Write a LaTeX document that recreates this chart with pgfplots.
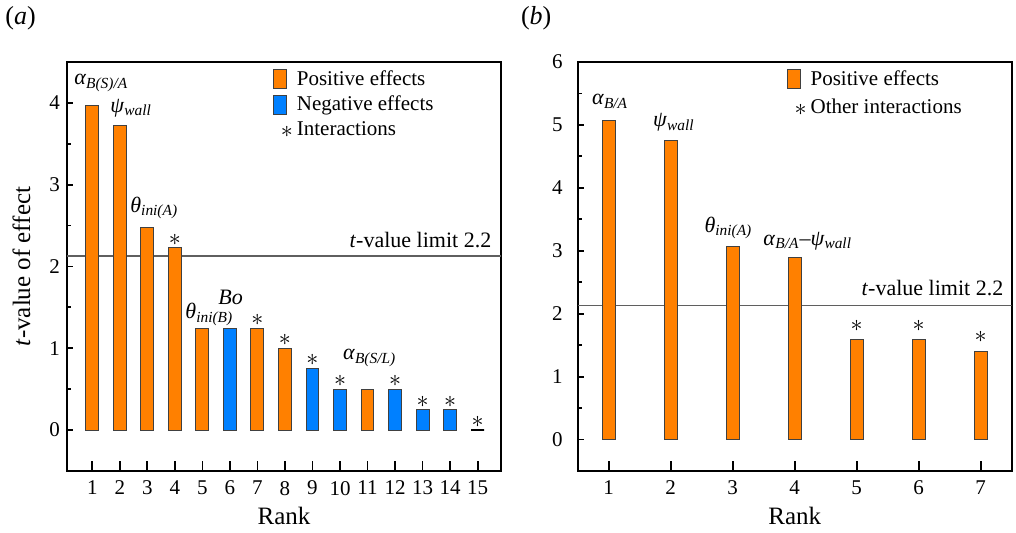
\documentclass[border=0pt]{standalone}
\usepackage{fontspec}
\setmainfont{Liberation Serif}
\usepackage{pgfplots}
\pgfplotsset{compat=1.18}
\definecolor{posc}{RGB}{255,128,0}
\definecolor{negc}{RGB}{0,128,255}
\definecolor{limc}{RGB}{95,95,95}
\pgfplotsset{
  common/.style={
    scale only axis,
    axis line style={line width=1pt},
    tick align=inside,
    xtick pos=bottom, ytick pos=left,
    tick style={black, line width=0.9pt},
    xtick style={/pgfplots/major tick length=5pt},
    ytick style={/pgfplots/major tick length=3pt},
    minor tick length=2pt,
    /pgf/number format/assume math mode=true,
    ticklabel style={font=\fontsize{10.5}{12}\selectfont},
    xticklabel style={anchor=north, yshift=-1.5pt},
    label style={font=\fontsize{12.5}{15}\selectfont},
    xlabel style={at={(axis description cs:0.5,-0.132)}, anchor=base},
    legend cell align=left,
    legend style={draw=none, fill=none, font=\fontsize{10.5}{12}\selectfont, anchor=north west},
  },
  posleg/.style={legend image code/.code={
    \draw[fill=posc,draw=black!75,line width=0.5pt] (0pt,-4.75pt) rectangle (6.5pt,4.75pt);
    \path[draw=none,fill=none] (0pt,0pt) -- (9pt,0pt);}},
  negleg/.style={legend image code/.code={
    \draw[fill=negc,draw=black!75,line width=0.5pt] (0pt,-4.75pt) rectangle (6.5pt,4.75pt);
    \path[draw=none,fill=none] (0pt,0pt) -- (9pt,0pt);}},
  astleg/.style={legend image code/.code={
    \path[draw=none,fill=none] (0pt,-4.75pt) rectangle (9pt,4.75pt);
    \node[inner sep=0pt, text=black, font=\fontsize{12}{13}\selectfont] at (3.25pt,-1.5pt) {$\ast$};}},
  barstyle/.style={ybar, bar shift=0pt, draw=black!75, line width=0.5pt, forget plot},
}
\tikzset{ann/.style={anchor=base west, inner sep=0pt, font=\fontsize{11}{13}\selectfont}}
\newcommand{\sub}[1]{\textsubscript{\textit{#1}}}

\begin{document}
\begin{tikzpicture}
\useasboundingbox (0,0) rectangle (508pt,266.5pt);
\node[anchor=base west, inner sep=0pt, font=\fontsize{13}{15}\selectfont] at (2.5pt,254pt) {(\textit{a})};
\node[anchor=base west, inner sep=0pt, font=\fontsize{13}{15}\selectfont] at (260.3pt,254pt) {(\textit{b})};

% ---------------- panel (a)
\begin{axis}[common,
  at={(33.5pt,31pt)}, anchor=south west,
  width=217pt, height=204.5pt,
  xmin=0.08, xmax=15.85, ymin=-0.5, ymax=4.5,
  xtick={1,...,15}, ytick={0,1,2,3,4},
  minor ytick={0.5,1.5,2.5,3.5},
  xlabel={Rank},
  ylabel={\textit{t}-value of effect},
  ylabel style={at={(axis description cs:-0.085,0.5)}, anchor=base},
  legend style={at={(0.461,1.0)}, row sep=0pt},
]
\addlegendimage{posleg}\addlegendentry{Positive effects}
\addlegendimage{negleg}\addlegendentry{Negative effects}
\addlegendimage{astleg}\addlegendentry{Interactions}

\addplot[limc, line width=0.9pt, forget plot] coordinates {(0.08,2.13) (15.85,2.13)};
\addplot[barstyle, bar width=0.47, fill=posc] coordinates {
  (1,3.97) (2,3.72) (3,2.48) (4,2.23) (5,1.245) (7,1.245) (8,1.0) (11,0.5)};
\addplot[barstyle, bar width=0.47, fill=negc] coordinates {
  (6,1.245) (9,0.755) (10,0.5) (12,0.5) (13,0.25) (14,0.25)};
\addplot[barstyle, bar width=0.47, draw=black, line width=0.8pt, fill=none] coordinates {(15,0)};
\addplot[draw=none, mark=none, forget plot, nodes near coords={$\ast$},
  every node near coord/.append style={anchor=center, yshift=4pt, inner sep=0pt, text=black, font=\fontsize{12}{13}\selectfont}]
  coordinates {(4,2.23) (7,1.245) (8,1.0) (9,0.755) (10,0.5) (12,0.5) (13,0.25) (14,0.25) (15,0)};

\node[ann] at (axis cs:0.33,4.22) {\textit{α}\sub{B(S)/A}};
\node[ann] at (axis cs:1.64,3.88) {\textit{ψ}\sub{wall}};
\node[ann] at (axis cs:2.37,2.66) {\textit{θ}\sub{ini(A)}};
\node[ann] at (axis cs:4.37,1.36) {\textit{θ}\sub{ini(B)}};
\node[ann] at (axis cs:5.57,1.54) {\textit{Bo}};
\node[ann] at (axis cs:10.1,0.86) {\textit{α}\sub{B(S/L)}};
\node[ann, anchor=base east] at (axis cs:15.51,2.23) {\textit{t}-value limit 2.2};
\end{axis}

% ---------------- panel (b)
\begin{axis}[common,
  at={(288.85pt,31pt)}, anchor=south west,
  width=217pt, height=204.5pt,
  xmin=0.5, xmax=7.5, ymin=-0.5, ymax=6,
  xtick={1,...,7}, ytick={0,1,2,3,4,5,6},
  minor ytick={0.5,1.5,2.5,3.5,4.5,5.5},
  yticklabel style={xshift=-4pt},
  xlabel={Rank},
  legend style={at={(0.468,1.0)}, row sep=1.5pt},
]
\addlegendimage{posleg}\addlegendentry{Positive effects}
\addlegendimage{astleg}\addlegendentry{Other interactions}

\addplot[limc, line width=0.9pt, forget plot] coordinates {(0.5,2.13) (7.5,2.13)};
\addplot[barstyle, bar width=0.215, fill=posc] coordinates {
  (1,5.07) (2,4.745) (3,3.07) (4,2.90) (5,1.59) (6,1.59) (7,1.405)};
\addplot[draw=none, mark=none, forget plot, nodes near coords={$\ast$},
  every node near coord/.append style={anchor=center, yshift=7pt, inner sep=0pt, text=black, font=\fontsize{12}{13}\selectfont}]
  coordinates {(5,1.59) (6,1.59) (7,1.405)};

\node[ann] at (axis cs:0.726,5.32) {\textit{α}\sub{B/A}};
\node[ann] at (axis cs:1.71,4.97) {\textit{ψ}\sub{wall}};
\node[ann] at (axis cs:2.54,3.29) {\textit{θ}\sub{ini(A)}};
\node[ann] at (axis cs:3.49,3.09) {\textit{α}\sub{B/A}–\textit{ψ}\sub{wall}};
\node[ann, anchor=base east] at (axis cs:7.37,2.29) {\textit{t}-value limit 2.2};
\end{axis}
\end{tikzpicture}
\end{document}
